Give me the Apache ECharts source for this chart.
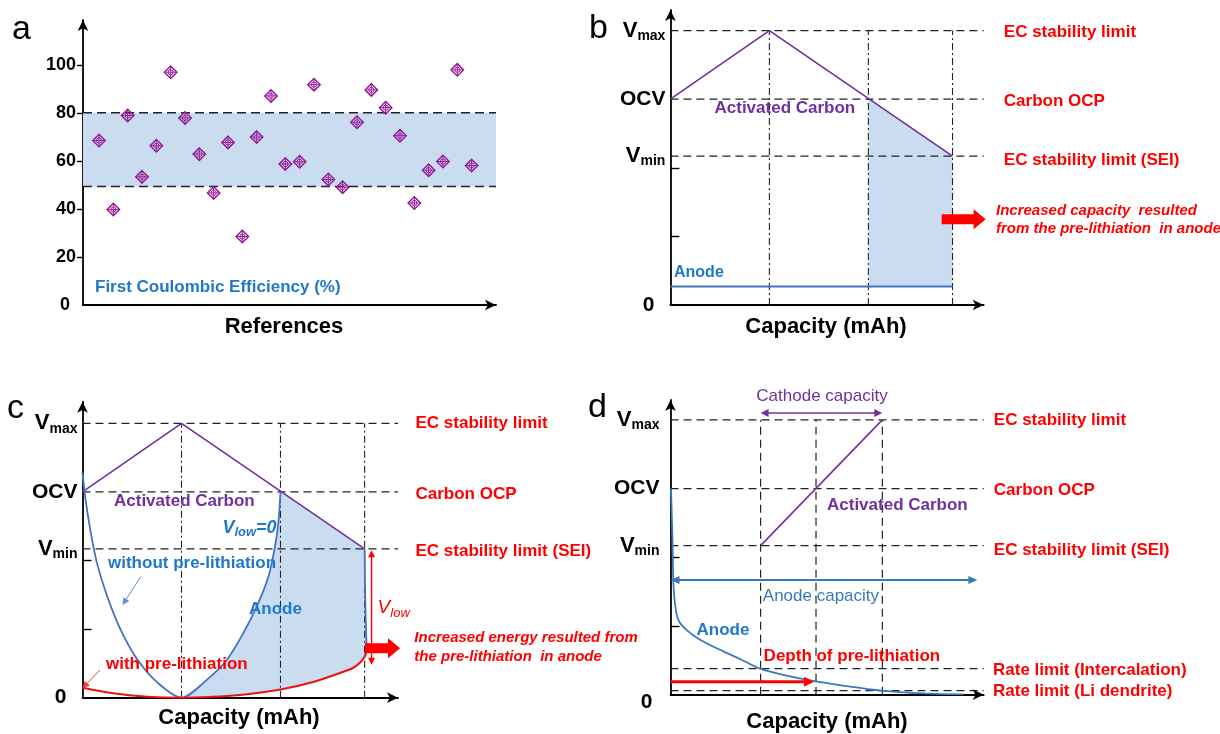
<!DOCTYPE html>
<html><head><meta charset="utf-8">
<script src="https://cdn.jsdelivr.net/npm/echarts@6/dist/echarts.min.js"></script>
<style>html,body{margin:0;padding:0;background:#fff}#chart{width:1220px;height:734px}</style>
</head><body><div id="chart"></div>
<script>
// ---------------- data ----------------
// Panel a: first coulombic efficiency of references
const fceRefs = [1,2,3,4,5,6,7,8,9,10,11,12,13,14,15,16,17,18,19,20,21,22,23,24,25,26,27];
const fceValues = [68.7,39.9,79.1,53.5,66.5,97.2,78.1,63.0,46.8,67.9,28.6,70.1,87.3,58.9,59.8,92.0,52.4,49.2,76.3,89.8,82.4,70.7,42.6,56.3,59.9,98.2,58.2];
const fceBand = [49.5, 80.3];
const fceTicks = [0,20,40,60,80,100];

// Voltage levels (shared by b, c, d)
const levelValues = [4, 3, 2.17];                 // Vmax, OCV, Vmin
const levelTickLabels = ['Vmax', 'OCV', 'Vmin'];
const levelNames = ['EC stability limit', 'Carbon OCP', 'EC stability limit (SEI)'];
const minorTicks = [1, 2];

// Panel b
const bCapMarks = [1, 2, 2.85];
const bCarbon = [[0,3],[1,4],[2.85,2.17]];
const bAnode = [[0,0.27],[2.85,0.27]];
const bFillRange = [2, 2.85];
const bArrowAt = [2.74, 1.25];

// Panel c
const cCapMarks = [1, 2, 2.85];
const cCarbon = [[0,3],[1,4],[2.85,2.17]];
const cAnodeNoPre = [[0.0,3.28],[0.025,2.95],[0.076,2.47],[0.143,1.98],[0.244,1.50],[0.379,1.01],[0.547,0.57],[0.75,0.23],[1.0,0],[1.255,0.26],[1.457,0.55],[1.624,0.94],[1.76,1.33],[1.877,1.76],[1.944,2.2],[1.978,2.54],[2.0,3.0]];
const cAnodeEdge = [[2.85,2.17],[2.855,1.5],[2.865,0.95],[2.87,0.75],[2.86,0.62]];
const cAnodePre = [[0,0.146],[0.31,0.064],[0.65,0.015],[1.0,0],[1.59,0.04],[2.0,0.12],[2.33,0.23],[2.6,0.36],[2.75,0.45],[2.85,0.6],[2.87,0.79]];
const cVlowSpan = [2.92, 2.15, 0.48];           // x, top, bottom
const cArrowAt = [2.854, 0.72];
const cNoPrePointer = [[0.589,1.764],[0.404,1.352]];
const cPrePointer = [[0.177,0.404],[0.0,0.137]];

// Panel d
const dCapMarks = [0.91, 1.47, 2.14];
const dCarbon = [[0.91,2.17],[2.14,4]];
const dAnode = [[0.005,3.0],[0.02,2.25],[0.028,1.67],[0.045,1.33],[0.079,1.09],[0.164,0.94],[0.298,0.80],[0.533,0.63],[0.702,0.52],[0.904,0.38],[1.139,0.29],[1.442,0.20],[1.712,0.14],[2.136,0.06],[2.556,0.02],[2.96,0.006]];
const dRateLevels = [0.38, 0.06];
const dRateNames = ['Rate limit (Intercalation)', 'Rate limit (Li dendrite)'];
const dCathodeSpan = [0.91, 2.14, 4.1];
const dAnodeSpan = [0, 3.10, 1.67];
const dDepthSpan = [0, 1.45, 0.19];

// ---------------- style ----------------
const FONT = '"Liberation Sans", Arial, sans-serif';
const PURPLE = '#7030a0', BLUE_LINE = '#4472c4', BLUE_TXT = '#1f78c9', RED = '#ff0000', RED_LINE = '#e81414', FILL = '#c9dcf0';
const DASH = [8, 5], DASHDOT = [7, 3, 2, 3];

const grids = [
  {left: 83, top: 20, width: 413, height: 285},
  {left: 670.4, top: 10, width: 313.3, height: 295},
  {left: 82.5, top: 401.7, width: 315.5, height: 296},
  {left: 670.5, top: 400, width: 313.2, height: 294.7}
];
const xRanges = [[-0.117, 28.7], [0, 3.165], [0, 3.187], [0, 3.164]];
const yMax = [119, 4.30, 4.315, 4.29];

const axisLineStyle = {show: true, onZero: false, lineStyle: {color: '#000', width: 1.8}, symbol: ['none', 'arrow'], symbolSize: [8, 11]};

const xAxes = grids.map((g, i) => ({
  type: 'value', gridIndex: i, min: xRanges[i][0], max: xRanges[i][1],
  axisLine: axisLineStyle, axisTick: {show: false}, axisLabel: {show: false}, splitLine: {show: false}
}));

function levelFmt(v) {
  if (Math.abs(v) < 1e-9) return '{z|0}';
  const k = levelValues.findIndex(l => Math.abs(l - v) < 1e-6);
  const name = levelTickLabels[k];
  if (name === 'OCV') return '{o|OCV}';
  return '{v|V}{s|' + name.slice(1) + '}';
}
function levelRich(zeroPad) {
  return {
    v: {fontSize: 22, fontWeight: 'bold', fontFamily: FONT, color: '#000'},
    o: {fontSize: 21, fontWeight: 'bold', fontFamily: FONT, color: '#000'},
    s: {fontSize: 14, fontWeight: 'bold', fontFamily: FONT, color: '#000', padding: [11, 0, 0, 0]},
    z: {fontSize: 21, fontWeight: 'bold', fontFamily: FONT, color: '#000', padding: zeroPad}
  };
}
const levelCustom = [0].concat(levelValues);

const yAxes = [
  {
    type: 'value', gridIndex: 0, min: 0, max: yMax[0],
    axisLine: axisLineStyle,
    axisTick: {show: true, customValues: fceTicks.slice(1), length: 6, lineStyle: {color: '#000', width: 1.4}},
    axisLabel: {show: true, customValues: fceTicks, margin: 7,
      formatter: v => v === 0 ? '{z|0}' : '{n|' + v + '}',
      rich: {n: {fontSize: 18, fontWeight: 'bold', fontFamily: FONT, color: '#000'},
             z: {fontSize: 18, fontWeight: 'bold', fontFamily: FONT, color: '#000', padding: [0, 6, 0, 0]}}},
    splitLine: {show: false}
  }
].concat([1, 2, 3].map(i => ({
  type: 'value', gridIndex: i, min: 0, max: yMax[i],
  axisLine: axisLineStyle,
  axisTick: {show: true, inside: true, customValues: minorTicks, length: 9, lineStyle: {color: '#000', width: 1.4}},
  axisLabel: {show: true, customValues: levelCustom, margin: i === 3 ? 11 : 5, formatter: levelFmt,
    rich: levelRich(i === 3 ? [16, 7, 0, 0] : [0, 11, 0, 0])},
  splitLine: {show: false}
})));

// ---------------- series helpers ----------------
function seg(g, pts, color, width, type, z, smooth) {
  return {type: 'line', xAxisIndex: g, yAxisIndex: g, data: pts, showSymbol: false, symbol: 'none',
    smooth: smooth || false, lineStyle: {color, width, type: type || 'solid'}, z: z || 3, silent: true, animation: false};
}
function poly(g, pts, color, z) {
  return {type: 'custom', xAxisIndex: g, yAxisIndex: g, data: [pts[0]], z: z || 1, silent: true, animation: false,
    renderItem: (p, api) => ({type: 'polygon', shape: {points: pts.map(q => api.coord(q))}, style: {fill: color}})};
}
function arrow(g, from, to, color, width, head, both, z) {
  return {type: 'custom', xAxisIndex: g, yAxisIndex: g, data: [from], z: z || 5, silent: true, animation: false,
    renderItem: (p, api) => {
      const a = api.coord(from), b = api.coord(to);
      const dx = b[0] - a[0], dy = b[1] - a[1], L = Math.hypot(dx, dy), ux = dx / L, uy = dy / L;
      const [hl, hw] = head;
      const headPts = (tip, sx, sy) => [tip, [tip[0] - sx * hl - sy * hw, tip[1] - sy * hl + sx * hw], [tip[0] - sx * hl + sy * hw, tip[1] - sy * hl - sx * hw]];
      const s = both ? [a[0] + ux * hl * 0.8, a[1] + uy * hl * 0.8] : a;
      const e = [b[0] - ux * hl * 0.8, b[1] - uy * hl * 0.8];
      const children = [
        {type: 'line', shape: {x1: s[0], y1: s[1], x2: e[0], y2: e[1]}, style: {stroke: color, lineWidth: width}},
        {type: 'polygon', shape: {points: headPts(b, ux, uy)}, style: {fill: color}}
      ];
      if (both) children.push({type: 'polygon', shape: {points: headPts(a, -ux, -uy)}, style: {fill: color}});
      return {type: 'group', children};
    }};
}
function blockArrow(g, at, len, color) {
  return {type: 'custom', xAxisIndex: g, yAxisIndex: g, data: [at], z: 6, silent: true, animation: false,
    renderItem: (p, api) => {
      const [x, y] = api.coord(at), hl = 12, sh = 5, hh = 10;
      return {type: 'polygon', shape: {points: [[x, y - sh], [x + len - hl, y - sh], [x + len - hl, y - hh], [x + len, y], [x + len - hl, y + hh], [x + len - hl, y + sh], [x, y + sh]]}, style: {fill: color}};
    }};
}
function interpY(pts, x) {
  for (let i = 0; i < pts.length - 1; i++) {
    const [x0, y0] = pts[i], [x1, y1] = pts[i + 1];
    if (x >= x0 && x <= x1) return y0 + (y1 - y0) * (x - x0) / (x1 - x0);
  }
  return pts[pts.length - 1][1];
}

const series = [];

// ---- panel a ----
const aX0 = xRanges[0][0], aX1 = xRanges[0][1];
series.push(poly(0, [[aX0, fceBand[0]], [aX1, fceBand[0]], [aX1, fceBand[1]], [aX0, fceBand[1]]], FILL, 1));
fceBand.forEach(v => series.push(seg(0, [[aX0, v], [aX1, v]], '#222', 1.4, [9, 5], 2)));
// diamond marker with an inner cross, drawn hollow via custom series
series.push({
  type: 'custom', xAxisIndex: 0, yAxisIndex: 0, z: 4, animation: false, silent: true,
  data: fceValues.map((v, i) => [fceRefs[i], v]),
  renderItem: (p, api) => {
    const [x, y] = api.coord([api.value(0), api.value(1)]), r = 6.2, c = '#951c98';
    const st = {stroke: c, lineWidth: 1.5, fill: 'none'};
    return {type: 'group', children: [
      {type: 'polygon', shape: {points: [[x, y - r], [x + r, y], [x, y + r], [x - r, y]]}, style: st},
      {type: 'circle', shape: {cx: x, cy: y, r: 2.6}, style: {stroke: c, lineWidth: 1, fill: 'none'}},
      {type: 'line', shape: {x1: x, y1: y - r, x2: x, y2: y + r}, style: {stroke: c, lineWidth: 1}},
      {type: 'line', shape: {x1: x - r, y1: y, x2: x + r, y2: y}, style: {stroke: c, lineWidth: 1}}
    ]};
  }
});

// ---- panels b, c, d: level lines ----
[1, 2, 3].forEach(g => {
  levelValues.forEach(v => series.push(seg(g, [[0, v], [xRanges[g][1], v]], '#222', 1.3, DASH, 2)));
});
dRateLevels.forEach(v => series.push(seg(3, [[0, v], [xRanges[3][1], v]], '#222', 1.3, DASH, 2)));
bCapMarks.forEach(x => series.push(seg(1, [[x, 0], [x, levelValues[0]]], '#222', 1.1, DASHDOT, 2)));
cCapMarks.forEach(x => series.push(seg(2, [[x, 0], [x, levelValues[0]]], '#222', 1.1, DASHDOT, 2)));
dCapMarks.forEach(x => series.push(seg(3, [[x, 0], [x, levelValues[0]]], '#222', 1.2, DASH, 2)));

// ---- panel b ----
const bFill = [[bFillRange[0], bAnode[0][1]], [bFillRange[0], interpY(bCarbon, bFillRange[0])]]
  .concat(bCarbon.filter(p => p[0] > bFillRange[0]))
  .concat([[bFillRange[1], bAnode[0][1]]]);
series.push(poly(1, bFill, FILL, 1));
series.push(seg(1, bCarbon, PURPLE, 1.6, 'solid', 4));
series.push(seg(1, bAnode, BLUE_LINE, 1.8, 'solid', 4));
series.push(blockArrow(1, bArrowAt, 44, RED));

// ---- panel c ----
const i0 = cAnodeNoPre.findIndex(p => p[0] >= 1);
const cFill = cAnodeNoPre.slice(i0)
  .concat([cCarbon[2]])
  .concat(cAnodeEdge.slice(1))
  .concat(cAnodePre.filter(p => p[0] >= 1 && p[0] <= 2.86).reverse());
series.push(poly(2, cFill, FILL, 1));
series.push(seg(2, cCarbon, PURPLE, 1.6, 'solid', 4));
series.push(seg(2, cAnodeNoPre, BLUE_LINE, 1.8, 'solid', 4, 0.3));
series.push(seg(2, cAnodeEdge, BLUE_LINE, 1.8, 'solid', 4, 0.3));
series.push(seg(2, cAnodePre, RED_LINE, 2, 'solid', 5, 0.3));
series.push(arrow(2, [cVlowSpan[0], cVlowSpan[1]], [cVlowSpan[0], cVlowSpan[2]], RED, 1.4, [7, 3.5], true));
series.push(blockArrow(2, cArrowAt, 35, RED));
series.push(arrow(2, cNoPrePointer[0], cNoPrePointer[1], '#5b8fd6', 1, [7, 3.5], false));
series.push(arrow(2, cPrePointer[0], cPrePointer[1], '#f04040', 1, [7, 3.5], false));

// ---- panel d ----
series.push(seg(3, dCarbon, PURPLE, 1.6, 'solid', 4));
series.push(seg(3, dAnode, '#3a78bd', 1.8, 'solid', 4, 0.3));
series.push(arrow(3, [dCathodeSpan[0], dCathodeSpan[2]], [dCathodeSpan[1], dCathodeSpan[2]], PURPLE, 1.6, [8, 4], true));
series.push(arrow(3, [dAnodeSpan[0], dAnodeSpan[2]], [dAnodeSpan[1], dAnodeSpan[2]], '#3a78bd', 2, [9, 4], true));
series.push(arrow(3, [dDepthSpan[0], dDepthSpan[2]], [dDepthSpan[1], dDepthSpan[2]], RED, 3, [10, 5], false));

// ---------------- texts ----------------
function txt(text, x, y, size, opts) {
  opts = opts || {};
  return {type: 'text', silent: true, z: 20, style: Object.assign({
    text, x, y, fontSize: size, fontFamily: FONT, fontWeight: opts.bold === false ? 'normal' : 'bold',
    fontStyle: opts.italic ? 'italic' : 'normal', fill: opts.color || '#000',
    align: opts.align || 'left', verticalAlign: 'middle'}, opts.extra || {})};
}
const graphics = [
  txt('a', 12, 30, 34, {bold: false}),
  txt('b', 589, 29, 34, {bold: false}),
  txt('c', 7, 409, 34, {bold: false}),
  txt('d', 588, 408, 34, {bold: false}),
  // a
  txt('First Coulombic Efficiency (%)', 95, 287, 17, {color: BLUE_TXT}),
  txt('References', 284, 327, 22, {align: 'center'}),
  // b
  txt('Activated Carbon', 714.5, 108, 17, {color: PURPLE}),
  txt('Anode', 674, 273, 16, {color: BLUE_TXT}),
  txt('Capacity (mAh)', 826, 327, 22, {align: 'center'}),
  txt(levelNames[0], 1003.8, 32, 17, {color: RED}),
  txt(levelNames[1], 1003.8, 101, 17, {color: RED}),
  txt(levelNames[2], 1003.8, 160, 17, {color: RED}),
  txt('Increased capacity  resulted', 996, 211, 15, {color: RED, italic: true}),
  txt('from the pre-lithiation  in anode', 996, 229, 15, {color: RED, italic: true}),
  // c
  txt('Activated Carbon', 114, 501, 17, {color: PURPLE}),
  txt('{v|V}{s|low}{v|=0}', 222.4, 528, 17, {color: BLUE_TXT, italic: true, extra: {rich: {
    v: {fontSize: 18, fontWeight: 'bold', fontStyle: 'italic', fontFamily: FONT, fill: BLUE_TXT},
    s: {fontSize: 13, fontWeight: 'bold', fontStyle: 'italic', fontFamily: FONT, fill: BLUE_TXT, padding: [9, 0, 0, 0]}}}}),
  txt('without pre-lithiation', 108, 563, 17, {color: BLUE_TXT}),
  txt('Anode', 249, 609, 17, {color: BLUE_TXT}),
  txt('with pre-lithiation', 106, 664, 17, {color: RED}),
  txt('{v|V}{s|low}', 377.6, 608, 18, {color: RED, italic: true, bold: false, extra: {rich: {
    v: {fontSize: 19, fontStyle: 'italic', fontFamily: FONT, fill: RED},
    s: {fontSize: 13, fontStyle: 'italic', fontFamily: FONT, fill: RED, padding: [10, 0, 0, 0]}}}}),
  txt('Capacity (mAh)', 239, 718, 22, {align: 'center'}),
  txt(levelNames[0], 415.5, 423.3, 17, {color: RED}),
  txt(levelNames[1], 415.5, 494, 17, {color: RED}),
  txt(levelNames[2], 415.5, 551.7, 17, {color: RED}),
  txt('Increased energy resulted from', 414.3, 638.3, 15, {color: RED, italic: true}),
  txt('the pre-lithiation  in anode', 414.3, 657.3, 15, {color: RED, italic: true}),
  // d
  txt('Cathode capacity', 822, 396.7, 17, {color: PURPLE, bold: false, align: 'center'}),
  txt('Activated Carbon', 827, 505, 17, {color: PURPLE}),
  txt('Anode capacity', 762.8, 596, 17, {color: '#3a78bd', bold: false}),
  txt('Anode', 696.5, 630, 17, {color: BLUE_TXT}),
  txt('Depth of pre-lithiation', 763.6, 656.7, 17, {color: RED}),
  txt('Capacity (mAh)', 827, 722, 22, {align: 'center'}),
  txt(levelNames[0], 993.8, 420.7, 17, {color: RED}),
  txt(levelNames[1], 993.8, 490.7, 17, {color: RED}),
  txt(levelNames[2], 993.8, 550, 17, {color: RED}),
  txt(dRateNames[0], 993, 670, 17, {color: RED}),
  txt(dRateNames[1], 993, 691.7, 17, {color: RED})
];

const chart = echarts.init(document.getElementById('chart'), null, {renderer: 'canvas'});
chart.setOption({
  animation: false,
  backgroundColor: '#fff',
  grid: grids.map(g => Object.assign({containLabel: false, outerBoundsMode: 'none'}, g)),
  xAxis: xAxes,
  yAxis: yAxes,
  series,
  graphic: graphics
});
</script>
</body></html>
